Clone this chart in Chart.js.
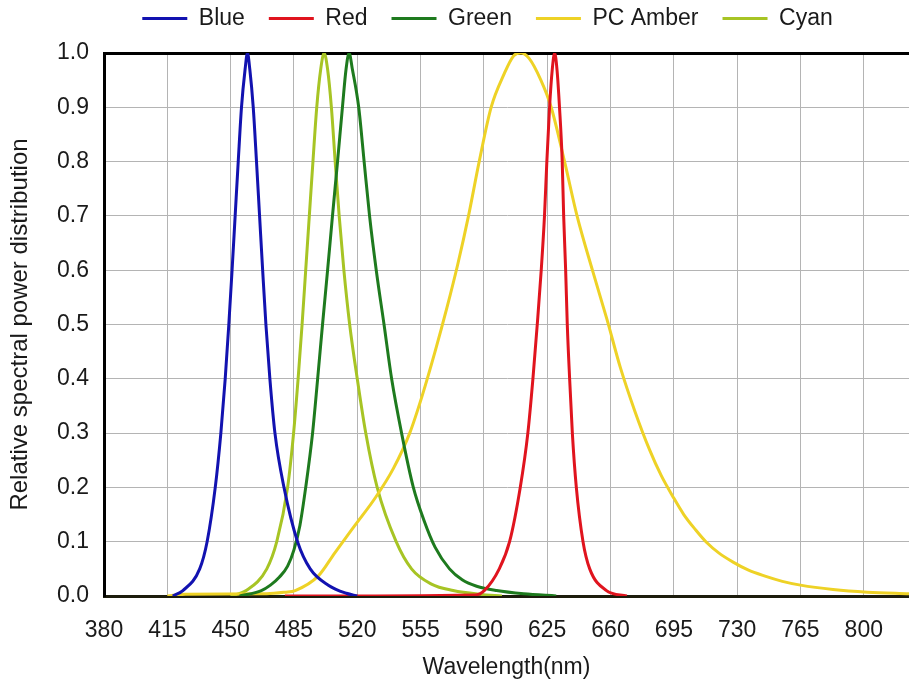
<!DOCTYPE html>
<html lang="en">
<head>
<meta charset="UTF-8">
<title>LED spectra</title>
<script src="https://cdn.jsdelivr.net/npm/chart.js@4.4.0/dist/chart.umd.min.js"></script>
<style>
  html, body { margin: 0; padding: 0; background: #fff; }
  #wrap { width: 909px; height: 689px; }
</style>
</head>
<body>
<div id="wrap"><canvas id="spd"></canvas></div>
<script>
// tick labels
var xTicks = [380, 415, 450, 485, 520, 555, 590, 625, 660, 695, 730, 765, 800];
var yTicks = [0, 0.1, 0.2, 0.3, 0.4, 0.5, 0.6, 0.7, 0.8, 0.9, 1.0];

// series (nm / relative power)
var blueNm  = [418, 423.6, 432.9, 437, 441.5, 444.6, 447, 449, 450.8, 452.5, 454.2, 456, 458, 459.3, 460.6, 462.5, 464.3, 466, 467.7, 469.5, 471.7, 474.5, 479.5, 487, 494, 504, 514, 520];
var blueVal = [0, 0.01, 0.05, 0.1, 0.2, 0.3, 0.4, 0.5, 0.6, 0.7, 0.8, 0.9, 0.97, 1.0, 0.97, 0.9, 0.8, 0.7, 0.6, 0.5, 0.4, 0.3, 0.2, 0.1, 0.05, 0.02, 0.005, 0];

var redNm  = [480, 585, 590.2, 598.5, 604.2, 610.1, 614.3, 617.1, 619.5, 621.7, 623.5, 624.8, 626.3, 627.8, 629.1, 630.4, 631.8, 633.3, 634.1, 635.2, 636.1, 637.4, 638.9, 641.1, 644.8, 648.5, 657.8, 669];
var redVal = [0, 0.002, 0.01, 0.05, 0.1, 0.2, 0.3, 0.4, 0.5, 0.6, 0.7, 0.8, 0.9, 0.97, 1.0, 0.97, 0.9, 0.8, 0.7, 0.6, 0.5, 0.4, 0.3, 0.2, 0.1, 0.05, 0.01, 0];

var greenNm  = [455, 467, 472, 477, 481.5, 485, 488.3, 491.5, 495.3, 498.1, 500.8, 503.6, 506.3, 509.1, 511.8, 513.8, 515.5, 517.3, 520.8, 523.8, 526.8, 530.5, 534.8, 539, 544.5, 551, 556.8, 563, 571, 578, 586, 597, 612, 630];
var greenVal = [0, 0.01, 0.02, 0.035, 0.055, 0.085, 0.13, 0.2, 0.3, 0.4, 0.5, 0.6, 0.7, 0.8, 0.9, 0.97, 1.0, 0.97, 0.9, 0.8, 0.7, 0.6, 0.5, 0.4, 0.3, 0.2, 0.14, 0.09, 0.05, 0.03, 0.018, 0.01, 0.004, 0];

var amberNm  = [415, 425, 470, 480, 485.7, 498.5, 507.7, 518.7, 529.8, 540, 549, 556, 563, 569.5, 575.5, 581.5, 587.4, 594, 601, 606.5, 610.5, 615, 621.5, 627.2, 634.6, 641.5, 650, 658, 665.5, 673.5, 681.5, 688, 694.5, 700.5, 707, 713, 720, 728, 736, 745, 755, 765, 783, 802, 825];
var amberVal = [0, 0.003, 0.004, 0.007, 0.01, 0.037, 0.08, 0.13, 0.18, 0.235, 0.3, 0.37, 0.45, 0.53, 0.61, 0.7, 0.8, 0.9, 0.96, 0.995, 1.0, 0.99, 0.95, 0.9, 0.8, 0.7, 0.6, 0.51, 0.42, 0.34, 0.27, 0.222, 0.183, 0.15, 0.122, 0.099, 0.079, 0.062, 0.048, 0.037, 0.027, 0.02, 0.012, 0.007, 0.004];

var cyanNm  = [450, 458.6, 470, 475.5, 481.5, 484.8, 487.3, 489.5, 491.5, 493.5, 495.5, 497.6, 499.8, 501.7, 503.6, 505.7, 507.8, 510, 512.6, 515.8, 520, 524.7, 531, 541.5, 550, 561, 573, 588, 600];
var cyanVal = [0, 0.01, 0.05, 0.1, 0.2, 0.3, 0.4, 0.5, 0.6, 0.7, 0.8, 0.9, 0.97, 1.0, 0.97, 0.9, 0.8, 0.7, 0.6, 0.5, 0.4, 0.3, 0.2, 0.1, 0.05, 0.022, 0.01, 0.003, 0];

function pts(xs, ys) {
    return xs.map(function (x, i) { return { x: x, y: ys[i] }; });
}

function line(label, color, xs, ys) {
    return {
        label: label,
        data: pts(xs, ys),
        borderColor: color,
        backgroundColor: color,
        borderWidth: 3,
        pointRadius: 0,
        cubicInterpolationMode: 'monotone',
        fill: false
    };
}

var sans = "'Liberation Sans', Arial, sans-serif";

// the legend sits a bit right of centre and close to the top edge
const legendNudge = {
    id: 'legendNudge',
    afterLayout: function (chart) {
        var lg = chart.legend;
        lg.left += 33; lg.right += 33;
        lg.top -= 17; lg.bottom -= 17;
    }
};

const config = {
    type: 'line',
    data: {
        datasets: [
            line('Blue', '#1212b0', blueNm, blueVal),
            line('Red', '#e0141e', redNm, redVal),
            line('Green', '#1e7a1e', greenNm, greenVal),
            line('PC Amber', '#eed226', amberNm, amberVal),
            line('Cyan', '#a7c424', cyanNm, cyanVal)
        ]
    },
    options: {
        responsive: true,
        maintainAspectRatio: false,
        animation: false,
        layout: { padding: 0 },
        plugins: {
            tooltip: { enabled: false },
            legend: {
                position: 'top',
                maxHeight: 53,
                labels: {
                    color: '#1a1a1a',
                    font: { family: sans, size: 23 },
                    boxWidth: 45,
                    boxHeight: 3,
                    padding: 24,
                    generateLabels: function (chart) {
                        return Chart.defaults.plugins.legend.labels.generateLabels(chart).map(function (it) {
                            it.fillStyle = it.strokeStyle;
                            it.lineWidth = 0;
                            return it;
                        });
                    }
                }
            }
        },
        scales: {
            x: {
                type: 'linear',
                min: 380,
                max: 825,
                afterBuildTicks: function (s) { s.ticks = xTicks.map(function (v) { return { value: v }; }); },
                afterFit: function (s) { s.height = 93; },
                ticks: {
                    color: '#1a1a1a',
                    font: { family: sans, size: 23 },
                    padding: 21,
                    maxRotation: 0,
                    callback: function (v) { return v; }
                },
                grid: { color: '#b4b4b4', lineWidth: 1, drawTicks: false },
                border: { display: true, color: '#1c1c0c', width: 3 },
                title: {
                    display: true,
                    text: 'Wavelength(nm)',
                    color: '#1a1a1a',
                    font: { family: sans, size: 23 },
                    padding: { top: 0, bottom: 8 }
                }
            },
            y: {
                min: 0,
                max: 1,
                afterBuildTicks: function (s) { s.ticks = yTicks.map(function (v) { return { value: v }; }); },
                afterFit: function (s) { s.width = 104; },
                ticks: {
                    color: '#1a1a1a',
                    font: { family: sans, size: 23 },
                    padding: 15,
                    callback: function (v) { return v.toFixed(1); }
                },
                grid: {
                    color: function (c) { return c.tick && c.tick.value === 1 ? '#000' : '#b4b4b4'; },
                    lineWidth: function (c) { return c.tick && c.tick.value === 1 ? 3 : 1; },
                    drawTicks: false
                },
                border: { display: true, color: '#000', width: 3 },
                title: {
                    display: true,
                    text: 'Relative spectral power distribution',
                    color: '#1a1a1a',
                    font: { family: sans, size: 24 },
                    padding: { top: 6, bottom: 0 }
                }
            }
        }
    },
    plugins: [legendNudge]
};

const spdChart = new Chart(document.getElementById('spd'), config);
</script>
</body>
</html>
